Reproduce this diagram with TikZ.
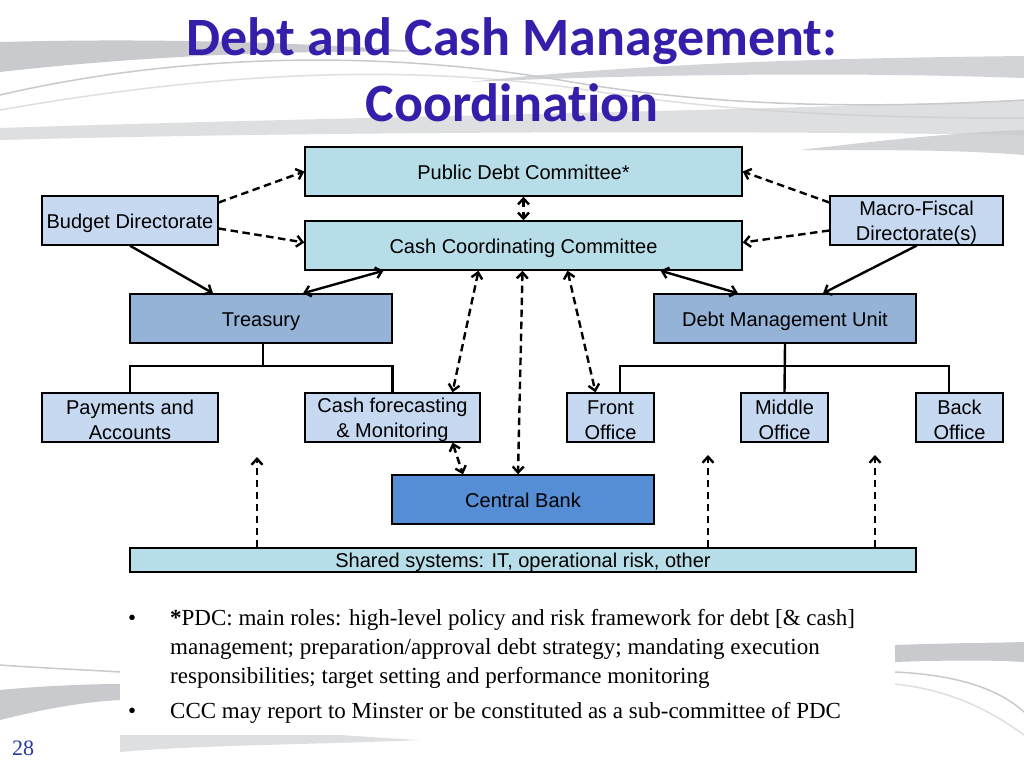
\documentclass[tikz,border=0pt]{standalone}
\usepackage{fontspec}
\setmainfont{Liberation Serif}
\newfontfamily\arialf{Liberation Sans}
\newfontfamily\calib[Ligatures=NoCommon]{Carlito}
\usetikzlibrary{arrows.meta}
\definecolor{cyanb}{RGB}{183,222,232}
\definecolor{lblue}{RGB}{198,217,241}
\definecolor{mblue}{RGB}{149,179,215}
\definecolor{cbblue}{RGB}{85,142,213}
\definecolor{titlec}{RGB}{55,30,170}
\definecolor{pagec}{RGB}{40,60,160}
\definecolor{swg}{RGB}{200,202,205}
\newcommand{\tstrut}{\rule{0pt}{19.5pt}}
\begin{document}
\begin{tikzpicture}[x=1pt,y=-1pt,
 box/.style={draw=black, line width=1.4pt, inner sep=0pt, align=center,
   font=\arialf\fontsize{20}{25}\selectfont, text=black},
 one/.style={text height=15pt, text depth=0pt},
 conn/.style={line width=2.4pt, draw=black},
 dsh/.style={conn, dash pattern=on 7.5pt off 4.5pt},
 tip/.style={-{Straight Barb[length=6pt,width=11pt]}},
 both/.style={{Straight Barb[length=6pt,width=11pt]}-{Straight Barb[length=6pt,width=11pt]}},
 tree/.style={line width=2.4pt, draw=black},
 swoosh/.style={fill=swg, draw=none},
 swline/.style={draw=swg, line width=1.5pt},
 bul/.style={anchor=base west, inner sep=0pt, font=\fontsize{23}{29}\selectfont},
 ttl/.style={anchor=base, inner sep=0pt, text=titlec, font=\calib\bfseries\fontsize{54}{60}\selectfont}]
\useasboundingbox (0,0) rectangle (1024,768);
\fill[white] (0,0) rectangle (1024,768);
% background swooshes (top)
\fill[swoosh] (0,42) .. controls (150,38) and (300,42) .. (430,52) .. controls (300,50) and (150,55) .. (0,72) -- cycle;
\fill[swoosh, opacity=0.8] (470,82) .. controls (650,62) and (850,58) .. (1024,56) -- (1024,78) .. controls (850,72) and (650,74) .. (470,82) -- cycle;
\draw[swline] (0,95) .. controls (150,60) and (350,45) .. (560,80) .. controls (700,105) and (850,110) .. (1024,100);
\draw[swline, opacity=0.6] (0,110) .. controls (200,75) and (400,60) .. (600,92) .. controls (750,115) and (900,118) .. (1024,118);
\fill[swoosh, opacity=0.6] (0,128) .. controls (300,118) and (700,112) .. (1024,100) -- (1024,135) .. controls (700,130) and (300,132) .. (0,140) -- cycle;
\fill[swoosh, opacity=0.8] (800,150) .. controls (900,138) and (970,132) .. (1024,130) -- (1024,155) .. controls (960,150) and (900,150) .. (800,150) -- cycle;
% background swooshes (bottom)
\fill[swoosh] (895,645) .. controls (950,643) and (990,643) .. (1024,642) -- (1024,662) .. controls (990,660) and (950,660) .. (895,662) -- cycle;
\draw[swline] (895,672) .. controls (960,675) and (1000,690) .. (1024,712);
\draw[swline, opacity=0.6] (895,684) .. controls (950,690) and (990,710) .. (1024,735);
\fill[swoosh] (0,690) .. controls (40,686) and (90,684) .. (120,684) -- (120,700) .. controls (80,702) and (40,710) .. (0,720) -- cycle;
\draw[swline] (0,665) .. controls (40,668) and (90,670) .. (120,672);
\fill[swoosh, opacity=0.6] (120,735) .. controls (220,722) and (320,735) .. (420,740) .. controls (300,745) and (200,745) .. (120,752) -- cycle;
% title
\node[ttl] (t1) at (512,56) {Debt and Cash Management:};
\node[ttl] (t2) at (512,121) {Coordinat\kern0pt ion};
% boxes
\node[box, one, fill=cyanb, minimum width=437pt, minimum height=49pt] (pdc) at (523.5,171.5) {Public Debt Committee*};
\node[box, one, fill=cyanb, minimum width=437pt, minimum height=49pt] (ccc) at (523.5,245.5) {Cash Coordinating Committee};
\node[box, one, fill=lblue, minimum width=176pt, minimum height=49pt] (bd) at (130,220.5) {Budget Directorate};
\node[box, fill=lblue, minimum width=173pt, minimum height=49pt] (mf) at (916.5,220.5) {\tstrut Macro-Fiscal\\Directorate(s)};
\node[box, one, fill=mblue, minimum width=262pt, minimum height=49pt] (tr) at (261,318.5) {Treasury};
\node[box, one, fill=mblue, minimum width=262pt, minimum height=49pt] (dmu) at (785,318.5) {Debt Management Unit};
\node[box, fill=lblue, minimum width=176pt, minimum height=49pt] (pa) at (130,417.5) {\tstrut Payments and\\Accounts};
\node[box, fill=lblue, minimum width=175pt, minimum height=49pt] (cf) at (392.5,417.5) {\tstrut Cash forecasting\\\& Monitoring};
\node[box, fill=lblue, minimum width=87pt, minimum height=49pt] (fo) at (610.5,417.5) {\tstrut Front\\Office};
\node[box, fill=lblue, minimum width=87pt, minimum height=49pt] (mo) at (784.5,417.5) {\tstrut Middle\\Office};
\node[box, fill=lblue, minimum width=87pt, minimum height=49pt] (bo) at (959.5,417.5) {\tstrut Back\\Office};
\node[box, one, fill=cbblue, minimum width=262pt, minimum height=49pt] (cb) at (523,499.5) {Central Bank};
\node[box, one, fill=cyanb, minimum width=786pt, minimum height=24pt] (ss) at (523,560) {Shared systems: IT, operational risk, other};
% connectors
\draw[dsh,tip] ([yshift=18pt]bd.east) -- (pdc.west);
\draw[dsh,tip] ([yshift=-8pt]bd.east) -- ([yshift=3pt]ccc.west);
\draw[conn,tip] (bd.south) -- ([xshift=-48pt]tr.north);
\draw[conn,both] ([xshift=-140pt]ccc.south) -- ([xshift=42pt]tr.north);
\draw[dsh,both] (pdc.south) -- (ccc.north);
\draw[dsh,tip] ([yshift=18pt]mf.west) -- (pdc.east);
\draw[dsh,tip] ([yshift=-10pt]mf.west) -- ([yshift=3pt]ccc.east);
\draw[conn,tip] (mf.south) -- ([xshift=38pt]dmu.north);
\draw[conn,both] ([xshift=137pt]ccc.south) -- ([xshift=-47pt]dmu.north);
\draw[dsh,both] ([xshift=-45pt]ccc.south) -- ([xshift=60pt]cf.north);
\draw[dsh,both] ([xshift=-1pt]ccc.south) -- ([xshift=-5pt]cb.north);
\draw[dsh,both] ([xshift=44pt]ccc.south) -- ([xshift=-15pt]fo.north);
\draw[dsh,both] ([xshift=60pt]cf.south) -- ([xshift=-60pt]cb.north);
% org trees
\coordinate (tj) at (263,366);
\coordinate (pj) at (130,366);
\coordinate (cj) at (392.5,366);
\draw[tree] ([xshift=2pt]tr.south) -- (tj);
\draw[tree] (pa.north) -- (pj) -- (cj) -- (cf.north);
\coordinate (fj) at (620,366);
\coordinate (bj) at (949,366);
\draw[tree] (dmu.south) -- (mo.north);
\draw[tree] ([xshift=9.5pt]fo.north) -- (fj) -- (bj) -- ([xshift=-10.5pt]bo.north);
% shared systems arrows
\coordinate (s1) at (257,457);
\coordinate (s2) at (708,455);
\coordinate (s3) at (875,455);
\draw[dsh,tip] (ss.north -| s1) -- (s1);
\draw[dsh,tip] (ss.north -| s2) -- (s2);
\draw[dsh,tip] (ss.north -| s3) -- (s3);
% bullets
\fill[white] (120,595) rectangle (895,735);
\node[bul] (b1a) at (128,625) {\textbullet};
\node[bul] (l1) at (170,625) {\textbf{*}PDC: main roles: high-level policy and risk framework for debt [\& cash]};
\node[bul] (l2) at (170,654) {management; preparation/approval debt strategy; mandating execution};
\node[bul] (l3) at (170,683) {responsibilities; target setting and performance monitoring};
\node[bul] (b2a) at (128,718) {\textbullet};
\node[bul] (l4) at (170,718) {CCC may report to Minster or be constituted as a sub-committee of PDC};
\node[anchor=base west, inner sep=0pt, text=pagec, font=\fontsize{22}{26}\selectfont] (pg) at (12,755) {28};
\end{tikzpicture}
\end{document}
